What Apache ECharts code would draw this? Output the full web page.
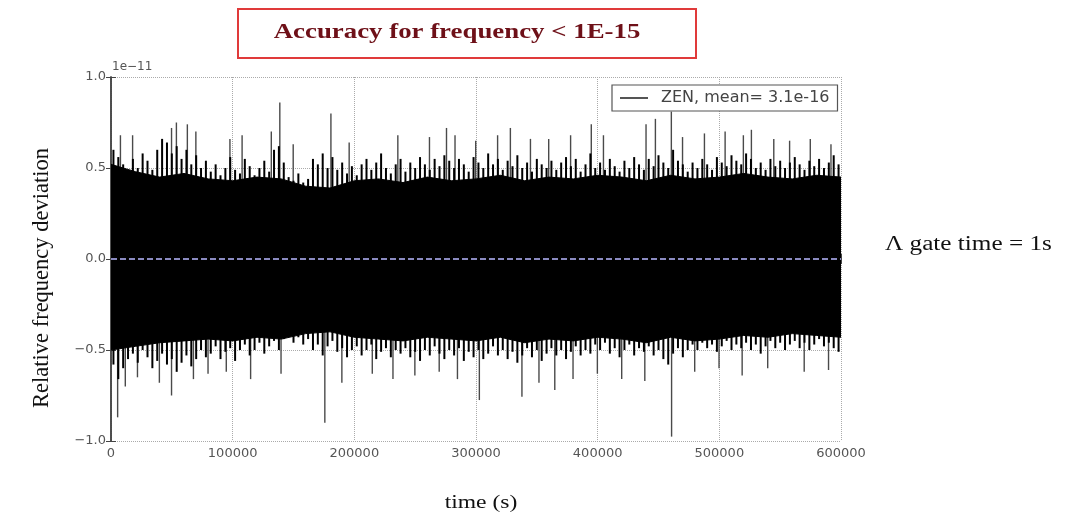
<!DOCTYPE html>
<html>
<head>
<meta charset="utf-8">
<script src="https://cdn.jsdelivr.net/npm/echarts@6/dist/echarts.min.js"></script>
<style>html,body{margin:0;padding:0;background:#fff}#c{width:1080px;height:523px}</style>
</head>
<body>
<div id="c"></div>
<script>
// values in units of 1e-11
var coreStep = 20000; // seconds between solid-core envelope points
var coreUpper = [0.52,0.48,0.45,0.47,0.44,0.43,0.45,0.44,0.40,0.39,0.43,0.44,0.42,0.45,0.43,0.44,0.46,0.43,0.45,0.44,0.46,0.45,0.43,0.46,0.44,0.45,0.47,0.45,0.44,0.46,0.45];
var coreLower = [-0.50,-0.48,-0.46,-0.45,-0.44,-0.45,-0.43,-0.44,-0.41,-0.40,-0.43,-0.44,-0.45,-0.43,-0.44,-0.45,-0.43,-0.46,-0.44,-0.45,-0.43,-0.44,-0.46,-0.43,-0.45,-0.44,-0.42,-0.43,-0.41,-0.42,-0.43];
var binStep = 4000; // seconds per envelope bin
var upperEnvelope = [
0.60,0.56,0.52,0.48,0.55,0.50,0.58,0.54,0.49,0.60,
0.66,0.64,0.58,0.62,0.55,0.60,0.52,0.57,0.50,0.54,
0.48,0.52,0.46,0.50,0.56,0.49,0.47,0.55,0.51,0.46,
0.50,0.54,0.48,0.60,0.62,0.53,0.45,0.43,0.47,0.42,
0.44,0.55,0.52,0.58,0.50,0.56,0.49,0.53,0.47,0.51,
0.46,0.52,0.55,0.49,0.53,0.58,0.50,0.47,0.52,0.55,
0.48,0.53,0.50,0.56,0.52,0.49,0.55,0.51,0.57,0.54,
0.50,0.55,0.52,0.48,0.56,0.53,0.50,0.58,0.52,0.55,
0.49,0.54,0.51,0.57,0.50,0.53,0.48,0.55,0.52,0.50,
0.54,0.49,0.53,0.56,0.51,0.55,0.48,0.52,0.58,0.50,
0.53,0.49,0.55,0.51,0.48,0.54,0.50,0.56,0.52,0.49,
0.55,0.51,0.57,0.53,0.50,0.60,0.54,0.52,0.48,0.53,
0.50,0.55,0.52,0.49,0.56,0.53,0.51,0.57,0.54,0.52,
0.58,0.55,0.50,0.53,0.49,0.55,0.51,0.54,0.50,0.53,
0.56,0.52,0.49,0.54,0.51,0.55,0.50,0.53,0.57,0.52
];
var lowerEnvelope = [
-0.58,-0.66,-0.60,-0.55,-0.52,-0.57,-0.50,-0.54,-0.60,-0.56,
-0.52,-0.58,-0.55,-0.62,-0.57,-0.53,-0.59,-0.55,-0.50,-0.54,
-0.52,-0.48,-0.55,-0.51,-0.49,-0.56,-0.50,-0.47,-0.53,-0.50,
-0.46,-0.52,-0.48,-0.45,-0.50,-0.44,-0.42,-0.46,-0.43,-0.47,
-0.44,-0.50,-0.47,-0.53,-0.48,-0.45,-0.51,-0.49,-0.54,-0.50,
-0.48,-0.53,-0.50,-0.47,-0.55,-0.51,-0.49,-0.54,-0.50,-0.52,
-0.49,-0.54,-0.51,-0.56,-0.50,-0.53,-0.48,-0.52,-0.55,-0.50,
-0.53,-0.49,-0.56,-0.51,-0.54,-0.50,-0.55,-0.52,-0.48,-0.53,
-0.50,-0.55,-0.51,-0.57,-0.53,-0.49,-0.54,-0.50,-0.56,-0.52,
-0.49,-0.53,-0.50,-0.55,-0.51,-0.48,-0.53,-0.50,-0.52,-0.47,
-0.50,-0.46,-0.52,-0.49,-0.54,-0.50,-0.47,-0.53,-0.49,-0.51,
-0.48,-0.53,-0.50,-0.55,-0.58,-0.52,-0.49,-0.54,-0.50,-0.47,
-0.50,-0.46,-0.49,-0.47,-0.51,-0.48,-0.45,-0.50,-0.47,-0.49,
-0.46,-0.50,-0.47,-0.52,-0.48,-0.45,-0.49,-0.46,-0.50,-0.47,
-0.45,-0.49,-0.46,-0.50,-0.47,-0.44,-0.48,-0.46,-0.49,-0.51
];
var spikeTimes = [
8000,18000,50000,54000,63000,70000,98000,108000,132000,139000,150000,181000,196000,236000,262000,276000,283000,300000,318000,328500,345000,360000,378000,395000,405000,440000,447700,460800,470000,488000,505000,520000,526600,545000,558000,575000,592000,
5700,12000,22000,40000,50000,68000,80000,95000,115000,140000,176000,190000,215000,232000,250000,270000,285000,303000,338000,352000,365000,380000,400000,420000,439000,461000,480000,500000,519000,540000,570000,590000
];
var spikeValues = [
0.68,0.68,0.72,0.75,0.74,0.70,0.66,0.68,0.70,0.86,0.63,0.80,0.64,0.68,0.67,0.72,0.68,0.65,0.68,0.72,0.66,0.66,0.68,0.74,0.68,0.74,0.77,0.81,0.67,0.69,0.70,0.68,0.71,0.66,0.65,0.66,0.63,
-0.87,-0.70,-0.65,-0.68,-0.75,-0.66,-0.63,-0.62,-0.66,-0.63,-0.90,-0.68,-0.63,-0.66,-0.64,-0.62,-0.66,-0.775,-0.757,-0.68,-0.72,-0.66,-0.63,-0.66,-0.67,-0.976,-0.62,-0.60,-0.64,-0.60,-0.62,-0.61
];
var xTicks = [0,100000,200000,300000,400000,500000,600000];
var yTicks = [-1.0,-0.5,0.0,0.5,1.0];
var meanValue = 0.0; // 3.1e-16 ~ 0 at this scale
var seriesName = 'ZEN, mean= 3.1e-16';

var coreUpPts = coreUpper.map(function (v, i) { return [i * coreStep, v]; });
var coreLoPts = coreLower.map(function (v, i) { return [i * coreStep, v]; });
var upperPts = upperEnvelope.map(function (v, i) { return [i * binStep + binStep / 2, v]; });
var lowerPts = lowerEnvelope.map(function (v, i) { return [i * binStep + binStep / 2, v]; });
var spikes = spikeTimes.map(function (t, k) { return [t, spikeValues[k]]; });

var chart = echarts.init(document.getElementById('c'), null, {renderer: 'canvas'});
var frame = {show: true, lineStyle: {color: '#444', width: 1.5}};
var labelFont = {color: '#555', fontFamily: 'DejaVu Sans', fontSize: 13};
var tick = {show: true, inside: true, length: 5, lineStyle: {color: '#444', width: 1}};
chart.setOption({
  animation: false,
  backgroundColor: '#fff',
  grid: {left: 111, right: 239, top: 77, bottom: 82, containLabel: false},
  legend: {
    left: 612, top: 85, padding: [5, 8, 5, 8],
    borderColor: '#555', borderWidth: 1.2, borderRadius: 0, backgroundColor: '#fff',
    itemWidth: 28, itemHeight: 2, icon: 'rect', itemGap: 0,
    textStyle: {color: '#444', fontFamily: 'DejaVu Sans', fontSize: 16, padding: [0, 0, 0, 8]},
    data: [{name: seriesName, itemStyle: {color: '#555'}}]
  },
  xAxis: [{
    type: 'value', min: xTicks[0], max: xTicks[xTicks.length - 1], interval: 100000,
    axisLine: frame, axisTick: tick,
    axisLabel: Object.assign({margin: 6, formatter: function (v) { return String(v); }}, labelFont),
    splitLine: {show: true, lineStyle: {type: 'dotted', color: '#aaa', width: 1}}
  }, {
    type: 'value', position: 'top', min: xTicks[0], max: xTicks[xTicks.length - 1], interval: 100000,
    axisLine: frame, axisTick: tick,
    axisLabel: {show: false}, splitLine: {show: false}
  }],
  yAxis: [{
    type: 'value', min: yTicks[0], max: yTicks[yTicks.length - 1], interval: 0.5,
    axisLine: frame, axisTick: tick,
    axisLabel: Object.assign({margin: 5, formatter: function (v) { return (v < 0 ? '\u2212' : '') + Math.abs(v).toFixed(1); }}, labelFont),
    splitLine: {show: true, lineStyle: {type: 'dotted', color: '#aaa', width: 1}}
  }, {
    type: 'value', position: 'right', min: yTicks[0], max: yTicks[yTicks.length - 1], interval: 0.5,
    axisLine: frame, axisTick: tick,
    axisLabel: {show: false}, splitLine: {show: false}
  }],
  series: [{
    name: 'spikes', type: 'bar', data: spikes, barWidth: 1.4, barGap: '-100%', z: 1,
    itemStyle: {color: '#4a4a4a'}, silent: true
  }, {
    name: 'upper', type: 'bar', data: upperPts, barWidth: 2, barGap: '-100%', z: 2,
    itemStyle: {color: '#000'}, silent: true
  }, {
    name: 'lowerBars', type: 'bar', data: lowerPts, barWidth: 2, barGap: '-100%', z: 2,
    itemStyle: {color: '#000'}, silent: true
  }, {
    name: seriesName, type: 'line', data: coreUpPts, showSymbol: false, symbol: 'none', z: 3,
    silent: true, lineStyle: {color: '#000', width: 1}, itemStyle: {color: '#000'},
    areaStyle: {color: '#000', opacity: 1, origin: 0}
  }, {
    name: 'lower', type: 'line', data: coreLoPts, showSymbol: false, symbol: 'none', z: 3,
    silent: true, lineStyle: {color: '#000', width: 1}, itemStyle: {color: '#000'},
    areaStyle: {color: '#000', opacity: 1, origin: 0},
    markLine: {
      silent: true, symbol: 'none', label: {show: false},
      lineStyle: {type: 'dashed', color: '#b8b8ff', width: 1.5},
      data: [{yAxis: meanValue}]
    }
  }],
  graphic: [
    {type: 'rect', left: 237, top: 8, shape: {width: 458, height: 49}, style: {fill: '#fff', stroke: '#e03a3a', lineWidth: 2}},
    {type: 'text', x: 457, y: 32, scaleX: 1.22, style: {text: 'Accuracy for frequency < 1E-15', font: 'bold 22px "Liberation Serif"', fill: '#6e1018', align: 'center', verticalAlign: 'middle'}},
    {type: 'text', x: 112, y: 73, style: {text: '1e\u221211', font: '12px "DejaVu Sans"', fill: '#555', align: 'left', verticalAlign: 'bottom'}},
    {type: 'text', x: 42, y: 278, rotation: Math.PI / 2, style: {text: 'Relative frequency deviation', font: '22.5px "Liberation Serif"', fill: '#111', align: 'center', verticalAlign: 'middle'}},
    {type: 'text', x: 481, y: 503, scaleX: 1.24, style: {text: 'time (s)', font: '19px "Liberation Serif"', fill: '#111', align: 'center', verticalAlign: 'middle'}},
    {type: 'text', x: 885, y: 245, scaleX: 1.26, style: {text: '\u039b gate time = 1s', font: '20px "Liberation Serif"', fill: '#111', align: 'left', verticalAlign: 'middle'}}
  ]
});
</script>
</body>
</html>
